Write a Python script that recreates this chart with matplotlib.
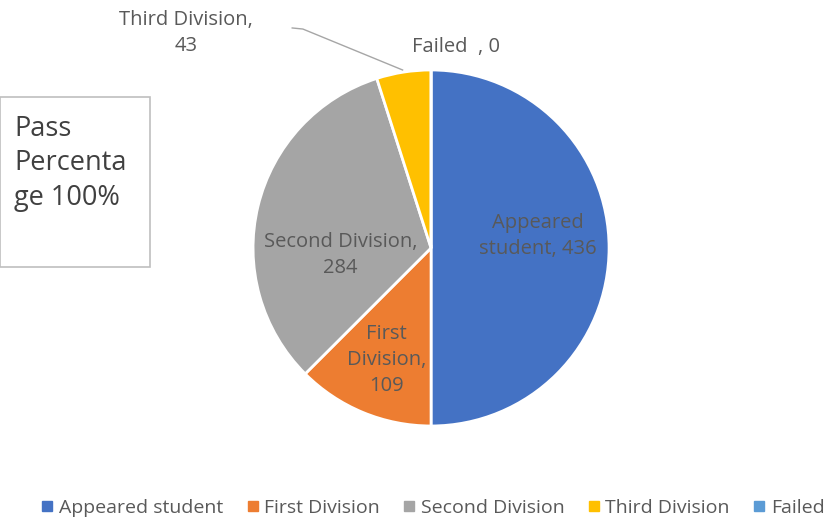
import matplotlib.pyplot as plt
from matplotlib.lines import Line2D
from matplotlib.patches import Rectangle

plt.rcParams['font.family'] = ['Open Sans', 'DejaVu Sans']

categories = ["Appeared student", "First Division", "Second Division", "Third Division", "Failed"]
values = [436, 109, 284, 43, 0]
colors = ["#4472C4", "#ED7D31", "#A5A5A5", "#FFC000", "#5B9BD5"]
label_texts = ["Appeared\nstudent, 436", "First\nDivision,\n109", "Second Division,\n284",
               "Third Division,\n43", "Failed  , 0"]

txt_color = "#595959"

fig = plt.figure(figsize=(8.28, 5.23), dpi=100)

# pie axes: centre ~ (431, 248) px, radius ~178 px
ax = fig.add_axes([0.3056, 0.1855, 0.43, 0.6807])
ax.pie(values, colors=colors, startangle=90, counterclock=False,
       wedgeprops=dict(edgecolor="white", linewidth=2))
ax.set_xlim(-1, 1)
ax.set_ylim(-1, 1)
ax.set_aspect("equal")
ax.axis("off")

# data labels
label_pos = [(0.60, 0.07), (-0.25, -0.63), (-0.51, -0.04), (-1.375, 1.21), (0.14, 1.13)]
for t, (x, y) in zip(label_texts, label_pos):
    ax.text(x, y, t, ha="center", va="center", fontsize=14.5, color=txt_color,
            linespacing=1.4, clip_on=False)

# leader line for Third Division
ax.plot([-0.78, -0.72, -0.16], [1.236, 1.23, 1.0], color="#A6A6A6", lw=1, clip_on=False)

# pass percentage box
fig.patches.append(Rectangle((0.0, 1 - 267 / 523), 150 / 828, 170 / 523,
                             transform=fig.transFigure, facecolor="white",
                             edgecolor="#BFBFBF", lw=1.2))
fig.text(14 / 828, 1 - 115 / 523, "Pass\nPercenta\nge 100%", ha="left", va="top",
         fontsize=19.5, color="#404040", linespacing=1.3)

handles = [Line2D([], [], marker="s", linestyle="none", markersize=7,
                  markerfacecolor=c, markeredgecolor=c) for c in colors]
fig.legend(handles, categories, loc="center", bbox_to_anchor=(0.523, 1 - 508 / 523),
           ncol=5, frameon=False, fontsize=14, labelcolor=txt_color,
           handlelength=0.6, handletextpad=0.3, columnspacing=1.2)

plt.savefig("out.png", dpi=100)
